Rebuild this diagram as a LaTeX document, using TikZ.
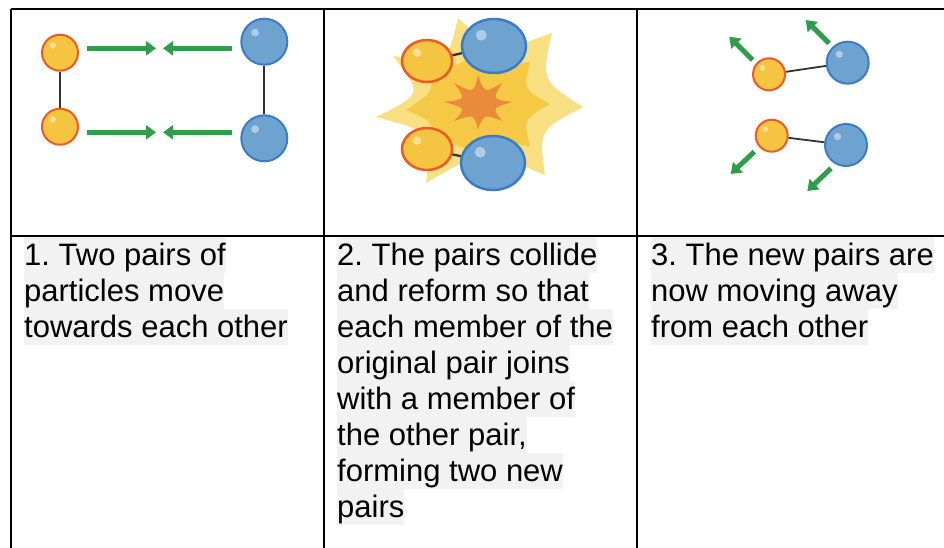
\documentclass[tikz,border=0pt]{standalone}
\usepackage{fontspec}
\setmainfont{Liberation Sans}
\usetikzlibrary{positioning,arrows.meta,shapes.geometric,calc}
\frenchspacing

\definecolor{ballyellow}{HTML}{F5C542}
\definecolor{ringorange}{HTML}{EC5A26}
\definecolor{ballblue}{HTML}{6FA3CF}
\definecolor{ringblue}{HTML}{3B7BC8}
\definecolor{pushgreen}{HTML}{2E9E4A}
\definecolor{linkgray}{HTML}{333333}
\definecolor{burstlight}{HTML}{F7DF82}
\definecolor{burstmid}{HTML}{F5C945}
\definecolor{burstcore}{HTML}{E98B3A}
\definecolor{textshade}{HTML}{F2F2F2}

\begin{document}
\begin{tikzpicture}[x=1pt, y=-1pt, node distance=0pt,
RuleStyle/.style={line width=2.5pt},
TextStyle/.style={fill=textshade, inner sep=0pt, text height=28.5pt,
                text depth=7.1pt, anchor=north west,
                font=\fontsize{31}{35.6}\selectfont},
ShineStyle/.style={fill=white, opacity=.45},
BallStyle/.style={inner sep=0pt, line width=2pt,
                path picture={\fill[ShineStyle]
                  let \p1=(path picture bounding box.north west),
                      \p2=(path picture bounding box.center) in
                  ($(\p2)!.4!(\p1)$) circle ({.17*(\x2-\x1)});}},
YellowBall/.style={BallStyle, circle, draw=ringorange, fill=ballyellow},
BlueBall/.style={BallStyle, circle, draw=ringblue, fill=ballblue},
LinkStyle/.style={draw=linkgray, line width=2.3pt},
PushStyle/.style={draw=pushgreen, line width=5pt,
                -{Triangle[length=10pt, width=14pt]}},
DentStyle/.style={to path={.. controls
                ($(\tikztostart)!.5!(\tikztotarget)!#1!(burst)$) .. (\tikztotarget)}},
]
\useasboundingbox (0,0) rectangle (944,548);

% first panel: two pairs heading for each other
\node [YellowBall, minimum size=36] (y1) at (60,52.7) {};
\node [YellowBall, minimum size=36] (y2) at (60,126.7) {};
\node [BlueBall, minimum size=46] (b1) at (264.3,41.7) {};
\node [BlueBall, minimum size=46] (b2) at (264.3,138.3) {};
\draw [LinkStyle] (y1) -- (y2);
\draw [LinkStyle] (b1) -- (b2);
\coordinate (p1a) at (87,48.3);  \coordinate (p1b) at (156,48.3);
\coordinate (p1c) at (232,48.3); \coordinate (p1d) at (163,48.3);
\coordinate (p2a) at (87,132.3);  \coordinate (p2b) at (156,132.3);
\coordinate (p2c) at (232,132.3); \coordinate (p2d) at (163,132.3);
\draw [PushStyle] (p1a) -- (p1b);
\draw [PushStyle] (p1c) -- (p1d);
\draw [PushStyle] (p2a) -- (p2b);
\draw [PushStyle] (p2c) -- (p2d);

% second panel: the collision
\coordinate (burst) at (480,105);
\fill [burstlight] (458,18) to[DentStyle=.35] (552,33) to[DentStyle=.3] (583,107)
  to[DentStyle=.3] (545,175) to[DentStyle=.4] (426,183) to[DentStyle=.4] (376,117)
  to[DentStyle=.4] (393,56) to[DentStyle=.4] (458,18) -- cycle;
\fill [burstmid] (550,104) to[DentStyle=.28] (530,62) to[DentStyle=.28] (478,44)
  to[DentStyle=.28] (428,62) to[DentStyle=.28] (406,110) to[DentStyle=.28] (428,148)
  to[DentStyle=.28] (478,164) to[DentStyle=.28] (530,146) to[DentStyle=.28] (550,104) -- cycle;
\fill [burstcore] (512,102) to[DentStyle=.55] (502,83) to[DentStyle=.55] (478,75)
  to[DentStyle=.55] (454,83) to[DentStyle=.55] (444,102) to[DentStyle=.55] (454,121)
  to[DentStyle=.55] (478,129) to[DentStyle=.55] (502,121) to[DentStyle=.55] (512,102) -- cycle;
\node [YellowBall, ellipse, line width=2.5pt, minimum width=50, minimum height=42] (y3) at (427,61) {};
\node [YellowBall, ellipse, line width=2.5pt, minimum width=50, minimum height=42] (y4) at (427,149) {};
\node [BlueBall, ellipse, line width=2.5pt, minimum width=64, minimum height=54] (b3) at (494,46) {};
\node [BlueBall, ellipse, line width=2.5pt, minimum width=64, minimum height=54] (b4) at (493,163) {};
\draw [LinkStyle] (y3) -- (b3);
\draw [LinkStyle] (y4) -- (b4);

% third panel: new pairs flying apart
\node [YellowBall, minimum size=32] (y5) at (769,74.3) {};
\node [YellowBall, minimum size=32] (y6) at (771.7,135.7) {};
\node [BlueBall, minimum size=42] (b5) at (847.7,62.7) {};
\node [BlueBall, minimum size=42] (b6) at (846,145) {};
\draw [LinkStyle, line width=1.8pt] (y5) -- (b5);
\draw [LinkStyle, line width=1.8pt] (y6) -- (b6);
\coordinate (q1a) at (752.7,60);    \coordinate (q1b) at (729.3,36.7);
\coordinate (q2a) at (829,43.3);    \coordinate (q2b) at (805.7,20);
\coordinate (q3a) at (754.3,151.7); \coordinate (q3b) at (730.7,174);
\coordinate (q4a) at (831,168.3);   \coordinate (q4b) at (807.3,191);
\draw [PushStyle] (q1a) -- (q1b);
\draw [PushStyle] (q2a) -- (q2b);
\draw [PushStyle] (q3a) -- (q3b);
\draw [PushStyle] (q4a) -- (q4b);

% captions, one node per line
\node [TextStyle] (c1l1) at (24,237) {1. Two pairs of};
\node [TextStyle, below=of c1l1.south west, anchor=north west] (c1l2) {particles move};
\node [TextStyle, below=of c1l2.south west, anchor=north west] (c1l3) {towards each other};

\node [TextStyle] (c2l1) at (337,237) {2. The pairs collide};
\node [TextStyle, below=of c2l1.south west, anchor=north west] (c2l2) {and reform so that};
\node [TextStyle, below=of c2l2.south west, anchor=north west] (c2l3) {each member of the};
\node [TextStyle, below=of c2l3.south west, anchor=north west] (c2l4) {original pair joins};
\node [TextStyle, below=of c2l4.south west, anchor=north west] (c2l5) {with a member of};
\node [TextStyle, below=of c2l5.south west, anchor=north west] (c2l6) {the other pair,};
\node [TextStyle, below=of c2l6.south west, anchor=north west] (c2l7) {forming two new};
\node [TextStyle, below=of c2l7.south west, anchor=north west] (c2l8) {pairs};

\node [TextStyle] (c3l1) at (651,237) {3. The new pairs are};
\node [TextStyle, below=of c3l1.south west, anchor=north west] (c3l2) {now moving away};
\node [TextStyle, below=of c3l2.south west, anchor=north west] (c3l3) {from each other};

% table rules
\draw [RuleStyle] (11,9) -- (944,9);
\draw [RuleStyle] (11,236) -- (944,236);
\draw [RuleStyle] (11,9) -- (11,548);
\draw [RuleStyle] (324,9) -- (324,548);
\draw [RuleStyle] (637,9) -- (637,548);
\end{tikzpicture}
\end{document}
